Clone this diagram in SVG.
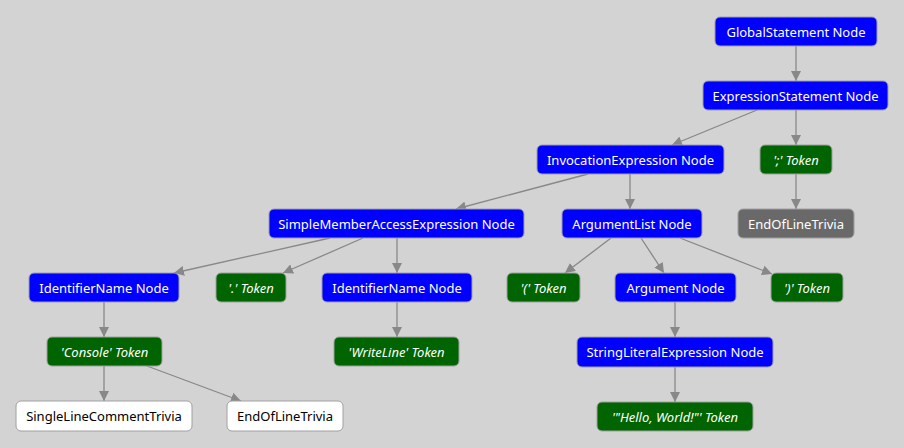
<svg xmlns="http://www.w3.org/2000/svg" width="904" height="448" viewBox="0 0 904 448">
<style>
.n rect{stroke:#a0a0a0;stroke-width:1}
.b rect{fill:#0000ff}
.g rect{fill:#006400}
.d rect{fill:#696969}
.w rect{fill:#ffffff}
text{font-family:"Noto Sans","Open Sans",sans-serif;font-size:13px;fill:#ffffff;text-anchor:middle;dominant-baseline:central}
.g text{font-style:italic}
.w text{fill:#000000}
.e line{stroke:#888888;stroke-width:1.3;marker-end:url(#ah)}
</style>
<defs>
<marker id="ah" viewBox="0 0 10 10" refX="10" refY="5" markerWidth="10" markerHeight="10" markerUnits="userSpaceOnUse" orient="auto">
<path d="M0,0 L10,5 L0,10 z" fill="#888888"/>
</marker>
</defs>
<rect x="0" y="0" width="904" height="448" fill="#d3d3d3"/>
<g class="e">
<line x1="796" y1="46" x2="796" y2="81"/>
<line x1="757" y1="110" x2="672" y2="145"/>
<line x1="796" y1="110" x2="796" y2="145"/>
<line x1="588" y1="174" x2="456" y2="209"/>
<line x1="630" y1="174" x2="630" y2="209"/>
<line x1="796" y1="174" x2="796" y2="209"/>
<line x1="330" y1="238" x2="174" y2="273"/>
<line x1="363" y1="238" x2="283" y2="273"/>
<line x1="397" y1="238" x2="397" y2="273"/>
<line x1="611" y1="238" x2="565" y2="273"/>
<line x1="641" y1="238" x2="664" y2="273"/>
<line x1="680" y1="238" x2="772" y2="274"/>
<line x1="104" y1="302" x2="104" y2="337"/>
<line x1="397" y1="302" x2="397" y2="337"/>
<line x1="675" y1="302" x2="675" y2="337"/>
<line x1="675" y1="367" x2="675" y2="402"/>
<line x1="104" y1="366" x2="104" y2="401"/>
<line x1="147" y1="366" x2="241" y2="401"/>
</g>
<g id="n1" class="n b"><rect x="715" y="17" width="162" height="29" rx="5"/><text x="796" y="31.5">GlobalStatement Node</text></g>
<g id="n2" class="n b"><rect x="703" y="81" width="185" height="29" rx="5"/><text x="795.5" y="95.5">ExpressionStatement Node</text></g>
<g id="n3" class="n b"><rect x="537" y="145" width="187" height="29" rx="5"/><text x="630.5" y="159.5">InvocationExpression Node</text></g>
<g id="n4" class="n g"><rect x="760" y="145" width="72" height="29" rx="5"/><text x="796" y="159.5">';' Token</text></g>
<g id="n5" class="n b"><rect x="269" y="209" width="255" height="29" rx="5"/><text x="396.5" y="223.5">SimpleMemberAccessExpression Node</text></g>
<g id="n6" class="n b"><rect x="562" y="209" width="140" height="29" rx="5"/><text x="632" y="223.5">ArgumentList Node</text></g>
<g id="n7" class="n d"><rect x="738" y="209" width="116" height="29" rx="5"/><text x="796" y="223.5">EndOfLineTrivia</text></g>
<g id="n8" class="n b"><rect x="29" y="273" width="150" height="29" rx="5"/><text x="104" y="287.5">IdentifierName Node</text></g>
<g id="n9" class="n g"><rect x="216" y="273" width="70" height="29" rx="5"/><text x="251" y="287.5">'.' Token</text></g>
<g id="n10" class="n b"><rect x="322" y="273" width="150" height="29" rx="5"/><text x="397" y="287.5">IdentifierName Node</text></g>
<g id="n11" class="n g"><rect x="507" y="273" width="73" height="29" rx="5"/><text x="543.5" y="287.5">'(' Token</text></g>
<g id="n12" class="n b"><rect x="615" y="273" width="121" height="29" rx="5"/><text x="675.5" y="287.5">Argument Node</text></g>
<g id="n13" class="n g"><rect x="771" y="273" width="72" height="29" rx="5"/><text x="807" y="287.5">')' Token</text></g>
<g id="n14" class="n g"><rect x="47" y="337" width="115" height="29" rx="5"/><text x="104.5" y="351.5">'Console' Token</text></g>
<g id="n15" class="n g"><rect x="334" y="337" width="125" height="29" rx="5"/><text x="396.5" y="351.5">'WriteLine' Token</text></g>
<g id="n16" class="n b"><rect x="577" y="337" width="196" height="30" rx="5"/><text x="675" y="352">StringLiteralExpression Node</text></g>
<g id="n17" class="n w"><rect x="16" y="401" width="176" height="30" rx="5"/><text x="104" y="416">SingleLineCommentTrivia</text></g>
<g id="n18" class="n w"><rect x="227" y="401" width="116" height="30" rx="5"/><text x="285" y="416">EndOfLineTrivia</text></g>
<g id="n19" class="n g"><rect x="597" y="402" width="156" height="29" rx="5"/><text x="675" y="416.5">'"Hello, World!"' Token</text></g>
</svg>
